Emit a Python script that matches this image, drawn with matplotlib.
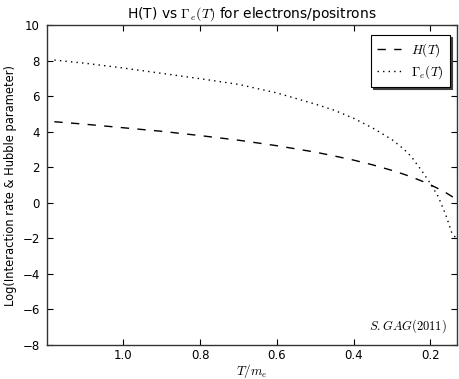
import matplotlib
matplotlib.use("Agg")
import matplotlib.pyplot as plt

# Data
T = [1.18, 1.10, 1.00, 0.90, 0.80, 0.70, 0.60, 0.50, 0.45, 0.40, 0.35,
     0.30, 0.27, 0.25, 0.22, 0.20, 0.18, 0.16, 0.145, 0.13]
H = [4.56, 4.42, 4.22, 4.02, 3.78, 3.52, 3.21, 2.85, 2.63, 2.40, 2.13,
     1.82, 1.61, 1.46, 1.20, 1.01, 0.80, 0.57, 0.37, 0.15]
Gamma = [8.03, 7.85, 7.58, 7.28, 6.98, 6.66, 6.18, 5.55, 5.20, 4.75, 4.20,
         3.55, 3.03, 2.60, 1.72, 1.08, 0.36, -0.68, -1.65, -2.10]
xticks = [1.0, 0.8, 0.6, 0.4, 0.2]
yticks = [-8, -6, -4, -2, 0, 2, 4, 6, 8, 10]

plt.rcParams['mathtext.fontset'] = 'cm'
plt.rcParams['font.family'] = 'DejaVu Sans'

fig = plt.figure(figsize=(4.59, 3.79), dpi=100, facecolor='white')
ax = fig.add_axes([0.1017, 0.0897, 0.8946, 0.8443])

ax.plot(T, H, color='k', linestyle=(0, (6, 6)), linewidth=1.0, label=r'$H(T)$')
ax.plot(T, Gamma, color='k', linestyle=(0, (1, 3)), linewidth=1.0, label=r'$\Gamma_e(T)$')

ax.set_xlim(1.2, 0.13)
ax.set_ylim(-8, 10)
ax.set_xticks(xticks)
ax.set_xticklabels([f"{v:.1f}" for v in xticks])
ax.set_yticks(yticks)
ax.tick_params(direction='in', top=True, right=True, labelsize=8.5,
               length=4, width=0.8)
ax.tick_params(axis='x', pad=3)
ax.tick_params(axis='y', pad=5)
for s in ax.spines.values():
    s.set_linewidth(1.0)
    s.set_color('#333333')

ax.set_title(r'H(T) vs $\Gamma_e(T)$ for electrons/positrons', fontsize=10, pad=5)
ax.set_xlabel(r'$T/m_e$', fontsize=9.5, labelpad=0)
ax.set_ylabel('Log(Interaction rate & Hubble parameter)', fontsize=8.3, labelpad=4)

ax.text(0.975, 0.03, r'$S.GAG(2011)$', transform=ax.transAxes,
        ha='right', va='bottom', fontsize=9)

leg = ax.legend(loc='upper right', fontsize=9.5,
                shadow={'ox': 1.5, 'oy': -1.5, 'color': '0.25', 'alpha': 1.0},
                fancybox=False, handlelength=1.8, borderpad=0.45,
                labelspacing=0.35, handletextpad=0.8, borderaxespad=0,
                bbox_to_anchor=(0.982, 0.969))
leg.get_frame().set_edgecolor('k')
leg.get_frame().set_linewidth(0.8)

fig.savefig('out.png', dpi=100, facecolor='white')
